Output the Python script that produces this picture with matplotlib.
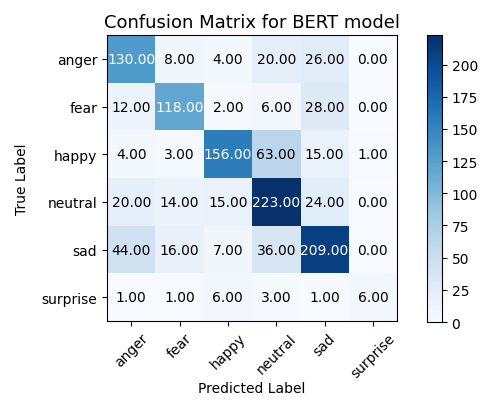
import numpy as np
import matplotlib
matplotlib.use("Agg")
import matplotlib.pyplot as plt

classes = ["anger", "fear", "happy", "neutral", "sad", "surprise"]
cm = np.array([
    [130, 8, 4, 20, 26, 0],
    [12, 118, 2, 6, 28, 0],
    [4, 3, 156, 63, 15, 1],
    [20, 14, 15, 223, 24, 0],
    [44, 16, 7, 36, 209, 0],
    [1, 1, 6, 3, 1, 6],
], dtype=float)

fig = plt.figure(figsize=(4.81, 4.02), dpi=100)
ax = fig.add_axes([0.2225, 0.199, 0.603, 0.7114])
cax = fig.add_axes([0.8877, 0.1965, 0.031, 0.714])

im = ax.imshow(cm, interpolation="nearest", cmap=plt.cm.Blues, aspect="auto")
ax.set_title("Confusion Matrix for BERT model", fontsize=13)
fig.colorbar(im, cax=cax)

ticks = np.arange(len(classes))
ax.set_xticks(ticks)
ax.set_xticklabels(classes, rotation=45)
ax.set_yticks(ticks)
ax.set_yticklabels(classes)

thresh = cm.max() / 2.0
for i in range(cm.shape[0]):
    for j in range(cm.shape[1]):
        ax.text(j, i, format(cm[i, j], ".2f"),
                ha="center", va="center", fontsize=10,
                color="white" if cm[i, j] > thresh else "black")

ax.set_ylabel("True Label", labelpad=9)
ax.set_xlabel("Predicted Label", labelpad=1)

fig.savefig("out.png", dpi=100)
